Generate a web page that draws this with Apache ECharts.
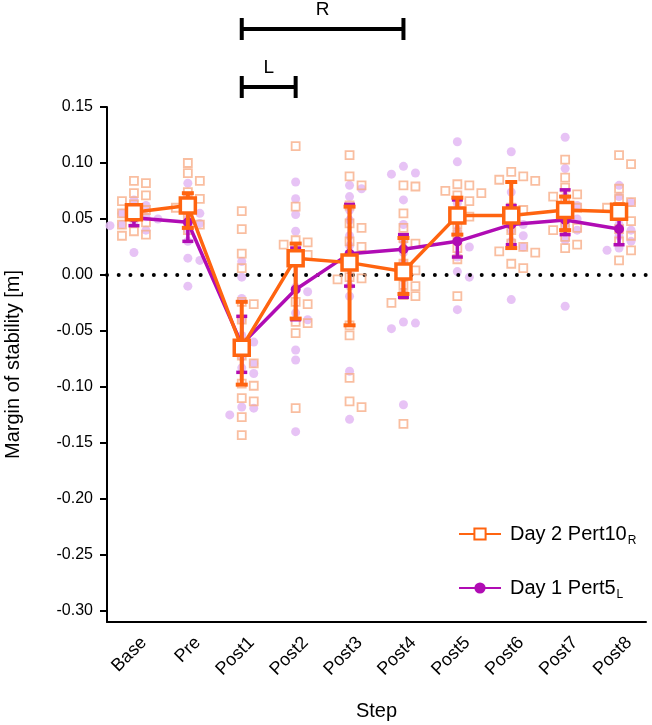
<!DOCTYPE html>
<html>
<head>
<meta charset="utf-8">
<script src="https://cdn.jsdelivr.net/npm/echarts@6/dist/echarts.min.js"></script>
<style>
  html, body { margin: 0; padding: 0; background: #fff; }
  #chart { width: 652px; height: 725px; }
</style>
</head>
<body>
<div id="chart"></div>
<script>
// categories and tick labels
const steps = ["Base", "Pre", "Post1", "Post2", "Post3", "Post4", "Post5", "Post6", "Post7", "Post8"];
const yTicks = [0.15, 0.1, 0.05, 0, -0.05, -0.1, -0.15, -0.2, -0.25, -0.3];

// Day 2 Pert10 R (orange): means and error bar ends
const orangeMean = [0.056, 0.062, -0.065, 0.015, 0.011, 0.003, 0.053, 0.053, 0.058, 0.0565];
const orangeLo = [0.052, 0.042, -0.098, -0.039, -0.045, -0.017, 0.036, 0.024, 0.040, 0.050];
const orangeHi = [0.060, 0.073, -0.024, 0.028, 0.061, 0.033, 0.069, 0.083, 0.070, 0.063];

// Day 1 Pert5 L (purple)
const purpleMean = [0.051, 0.047, -0.062, -0.013, 0.019, 0.023, 0.030, 0.045, 0.049, 0.041];
const purpleLo = [0.044, 0.030, -0.087, -0.040, -0.010, -0.020, 0.016, 0.027, 0.036, 0.027];
const purpleHi = [0.058, 0.062, -0.037, 0.024, 0.063, 0.036, 0.067, 0.062, 0.076, 0.053];

// individual subjects, one list per step
const orangePts = [
  [0.084, 0.082, 0.073, 0.071, 0.063, 0.066, 0.058, 0.055, 0.052, 0.047, 0.045, 0.039, 0.036, 0.035],
  [0.100, 0.091, 0.084, 0.074, 0.068, 0.065, 0.060, 0.051, 0.045, 0.040],
  [0.057, 0.041, 0.019, 0.006, -0.024, -0.026, -0.040, -0.060, -0.072, -0.079, -0.097, -0.099, -0.110, -0.113, -0.127, -0.143],
  [0.115, 0.061, 0.031, 0.029, 0.027, 0.021, 0.018, 0.012, -0.024, -0.026, -0.042, -0.043, -0.052, -0.119],
  [0.107, 0.088, 0.080, 0.062, 0.046, 0.042, 0.030, 0.025, 0.009, -0.002, -0.003, -0.004, -0.045, -0.054, -0.092, -0.113, -0.118],
  [0.080, 0.079, 0.055, 0.042, 0.033, 0.028, 0.010, 0.004, -0.009, -0.010, -0.018, -0.019, -0.025, -0.133],
  [0.081, 0.080, 0.075, 0.073, 0.071, 0.066, 0.054, 0.052, 0.045, 0.036, 0.024, 0.014, -0.019],
  [0.092, 0.088, 0.085, 0.084, 0.060, 0.058, 0.050, 0.040, 0.028, 0.025, 0.021, 0.020, 0.010, 0.006],
  [0.103, 0.087, 0.078, 0.072, 0.070, 0.065, 0.060, 0.055, 0.045, 0.042, 0.040, 0.034, 0.027, 0.024],
  [0.107, 0.099, 0.077, 0.068, 0.065, 0.060, 0.055, 0.048, 0.041, 0.035, 0.030, 0.022, 0.013]
];
const purplePts = [
  [0.067, 0.062, 0.058, 0.055, 0.052, 0.050, 0.048, 0.045, 0.044, 0.040, 0.020],
  [0.082, 0.070, 0.060, 0.055, 0.050, 0.046, 0.040, 0.030, 0.015, 0.013, -0.010],
  [0.012, -0.002, -0.021, -0.040, -0.054, -0.060, -0.073, -0.079, -0.083, -0.088, -0.118, -0.119, -0.125],
  [0.083, 0.068, 0.054, 0.039, 0.021, -0.011, -0.015, -0.034, -0.040, -0.067, -0.076, -0.140],
  [0.080, 0.077, 0.070, 0.058, 0.049, 0.035, 0.026, 0.015, -0.010, -0.019, -0.086, -0.129],
  [0.097, 0.091, 0.090, 0.067, 0.045, 0.030, 0.020, 0.010, -0.042, -0.043, -0.048, -0.116],
  [0.119, 0.101, 0.064, 0.050, 0.040, 0.030, 0.025, 0.016, 0.003, -0.002, -0.031],
  [0.110, 0.074, 0.060, 0.050, 0.045, 0.040, 0.035, 0.030, 0.025, -0.022],
  [0.123, 0.095, 0.070, 0.062, 0.055, 0.050, 0.045, 0.040, 0.031, -0.028],
  [0.080, 0.070, 0.065, 0.060, 0.045, 0.040, 0.035, 0.030, 0.024, 0.022]
];

// significance brackets: [from step, to step, label]
const brackets = [["Post1", "Post2", "L"], ["Post1", "Post4", "R"]];

const ORANGE = "#ff6410";
const ORANGE_LIGHT = "#f7ae88";
const PURPLE = "#b00cb4";
const PURPLE_LIGHT = "#e4bcf4";
const FONT = "Liberation Sans, Arial, sans-serif";

const chart = echarts.init(document.getElementById("chart"));

function errorBars(lo, hi, color, capW, lw) {
  return {
    type: "custom",
    xAxisIndex: 0,
    yAxisIndex: 0,
    silent: true,
    data: lo.map((v, i) => [i, v, hi[i]]),
    renderItem: (params, api) => {
      const a = api.coord([api.value(0), api.value(1)]);
      const b = api.coord([api.value(0), api.value(2)]);
      const st = { stroke: color, lineWidth: lw };
      return {
        type: "group",
        children: [
          { type: "line", shape: { x1: a[0], y1: a[1], x2: b[0], y2: b[1] }, style: st },
          { type: "line", shape: { x1: a[0] - capW / 2, y1: a[1], x2: a[0] + capW / 2, y2: a[1] }, style: st },
          { type: "line", shape: { x1: b[0] - capW / 2, y1: b[1], x2: b[0] + capW / 2, y2: b[1] }, style: st }
        ]
      };
    }
  };
}

const option = {
  animation: false,
  textStyle: { fontFamily: FONT, color: "#000" },
  grid: { left: 107, right: 6, top: 107, bottom: 103, containLabel: false, outerBoundsMode: "none" },
  legend: {
    orient: "vertical",
    left: 453,
    top: 519,
    itemWidth: 42,
    itemHeight: 14,
    itemGap: 31,
    data: ["orange", "purple"],
    formatter: (n) => n === "orange" ? "{t|Day 2 Pert10}{s|R}" : "{t|Day 1 Pert5}{s|L}",
    textStyle: {
      rich: {
        t: { fontSize: 20, fontFamily: FONT, color: "#000", padding: [0, 0, 0, 4] },
        s: { fontSize: 12, fontFamily: FONT, color: "#000", padding: [14, 0, 0, 1] }
      }
    }
  },
  xAxis: [
    {
      type: "category",
      data: steps,
      boundaryGap: true,
      name: "Step",
      nameLocation: "middle",
      nameGap: 79,
      nameTextStyle: { fontSize: 20, fontFamily: FONT, color: "#000" },
      axisLine: { onZero: false, lineStyle: { color: "#000", width: 2 } },
      axisTick: { alignWithLabel: true, length: 7, lineStyle: { color: "#000", width: 2 } },
      axisLabel: {
        rotate: 45, fontSize: 18, color: "#000", margin: 8, interval: 0,
        verticalAlign: "top", padding: [5, 0, 0, 0]
      }
    },
    { type: "value", min: -0.5, max: 9.5, show: false }
  ],
  yAxis: {
    type: "value",
    min: -0.31,
    max: 0.15,
    name: "Margin of stability [m]",
    nameLocation: "middle",
    nameGap: 84,
    nameTextStyle: { fontSize: 20, fontFamily: FONT, color: "#000" },
    splitLine: { show: false },
    axisLine: { show: true, onZero: false, lineStyle: { color: "#000", width: 2 } },
    axisTick: { show: true, length: 7, customValues: yTicks, lineStyle: { color: "#000", width: 2 } },
    axisLabel: {
      fontSize: 16, color: "#000", margin: 14,
      customValues: yTicks,
      formatter: (v) => v.toFixed(2)
    }
  },
  series: [
    {
      name: "purplePts",
      type: "scatter",
      xAxisIndex: 1,
      symbol: "circle",
      symbolSize: 9,
      itemStyle: { color: PURPLE_LIGHT, opacity: 0.9 },
      z: 1,
      data: []
    },
    {
      name: "orangePts",
      type: "scatter",
      xAxisIndex: 1,
      symbol: "rect",
      symbolSize: 8,
      itemStyle: { color: "rgba(255,255,255,0)", borderColor: ORANGE_LIGHT, borderWidth: 1.8 },
      z: 2,
      data: []
    },
    Object.assign(errorBars(purpleLo, purpleHi, PURPLE, 11, 3.5), { z: 3 }),
    {
      name: "purple",
      type: "line",
      data: purpleMean,
      symbol: "circle",
      symbolSize: 10,
      itemStyle: { color: PURPLE },
      lineStyle: { color: PURPLE, width: 3.5 },
      z: 4
    },
    Object.assign(errorBars(orangeLo, orangeHi, ORANGE, 12, 4), { z: 5 }),
    {
      name: "orange",
      type: "line",
      data: orangeMean,
      symbol: "rect",
      symbolSize: 15,
      itemStyle: { color: "#fff", borderColor: ORANGE, borderWidth: 3.5 },
      lineStyle: { color: ORANGE, width: 3.5 },
      z: 6,
      markLine: {
        silent: true,
        symbol: "none",
        label: { show: false },
        lineStyle: { color: "#000", width: 4, type: [0.01, 11.7], cap: "round" },
        data: [{ yAxis: 0 }],
        z: 2
      }
    },
    {
      type: "custom",
      xAxisIndex: 0,
      yAxisIndex: 0,
      clip: false,
      silent: true,
      data: brackets.map((b, i) => [steps.indexOf(b[0]), steps.indexOf(b[1]), b[2], i]),
      renderItem: (params, api) => {
        const a = api.coord([api.value(0), 0]);
        const b = api.coord([api.value(1), 0]);
        const top = params.coordSys.y;
        const y = top - 20 - api.value(3) * 58;
        const st = { stroke: "#000", lineWidth: 4 };
        return {
          type: "group",
          children: [
            { type: "line", shape: { x1: a[0], y1: y, x2: b[0], y2: y }, style: st },
            { type: "line", shape: { x1: a[0], y1: y - 11, x2: a[0], y2: y + 11 }, style: st },
            { type: "line", shape: { x1: b[0], y1: y - 11, x2: b[0], y2: y + 11 }, style: st },
            {
              type: "text",
              style: {
                text: api.value(2), x: (a[0] + b[0]) / 2, y: y - 19,
                textAlign: "center", textVerticalAlign: "middle",
                align: "center", verticalAlign: "middle",
                font: "19px " + FONT, fill: "#000"
              }
            }
          ]
        };
      }
    }
  ]
};

chart.setOption(option);

// spread each step's subject points sideways so they don't overlap (beeswarm)
function swarm(lists, size) {
  const pxX = chart.convertToPixel({ xAxisIndex: 1 }, 1) - chart.convertToPixel({ xAxisIndex: 1 }, 0);
  const out = [];
  lists.forEach((vals, i) => {
    const placed = [];
    vals.forEach((v) => {
      const y = chart.convertToPixel({ yAxisIndex: 0 }, v);
      for (const k of [0, 1, -1, 2, -2, 3, -3]) {
        const x = k * 12;
        if (placed.every((p) => Math.abs(p[0] - x) >= size || Math.abs(p[1] - y) >= size)) {
          placed.push([x, y]);
          out.push([i + x / pxX, v]);
          break;
        }
      }
    });
  });
  return out;
}

chart.setOption({
  series: [
    { name: "purplePts", data: swarm(purplePts, 9) },
    { name: "orangePts", data: swarm(orangePts, 9) }
  ]
});
</script>
</body>
</html>
